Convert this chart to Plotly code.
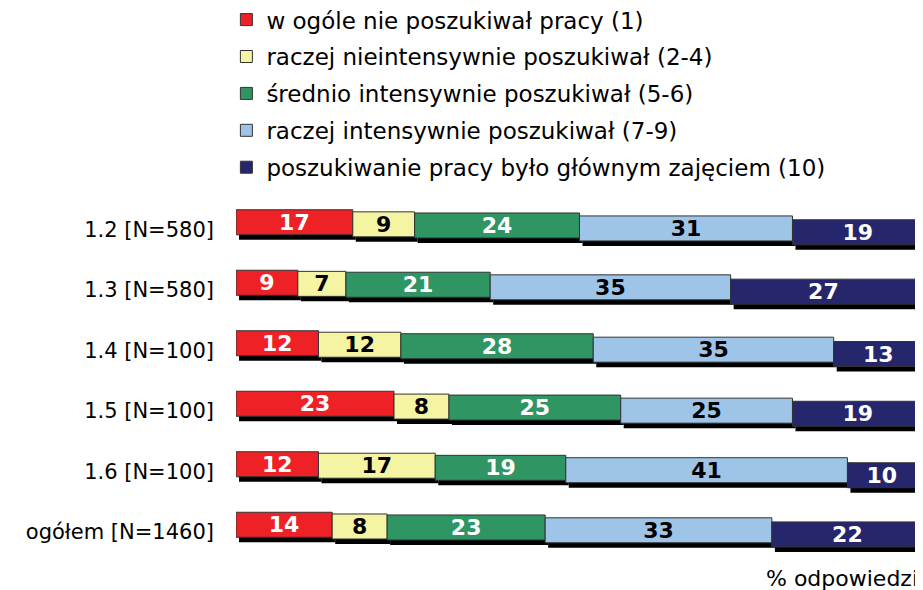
import plotly.graph_objects as go

rows = ["1.2 [N=580]", "1.3 [N=580]", "1.4 [N=100]", "1.5 [N=100]", "1.6 [N=100]", "ogółem [N=1460]"]
series_names = [
    "w ogóle nie poszukiwał pracy (1)",
    "raczej nieintensywnie poszukiwał (2-4)",
    "średnio intensywnie poszukiwał (5-6)",
    "raczej intensywnie poszukiwał (7-9)",
    "poszukiwanie pracy było głównym zajęciem (10)",
]
s1 = [17, 9, 12, 23, 12, 14]
s2 = [9, 7, 12, 8, 17, 8]
s3 = [24, 21, 28, 25, 19, 23]
s4 = [31, 35, 35, 25, 41, 33]
s5 = [19, 27, 13, 19, 10, 22]
series = [s1, s2, s3, s4, s5]
colors = ["#EE2226", "#F4F4A2", "#2E9563", "#9EC4E8", "#26266C"]
text_colors = ["white", "black", "white", "black", "white"]

FONT = "DejaVu Sans"
plot_w = 687.0
plot_h = 363.0
px_unit = plot_w / 100.0
row_px = plot_h / 6.0
slant = 0.018  # 3D perspective drop (px per px)
bar_w = 25.0 / row_px
sh_dy = 5.0 / row_px
sh_dx = 3.0 / px_unit
label_drop = 7.0 / row_px

ypos = list(range(len(rows)))

bases = []
cum = [0] * len(rows)
for s in series:
    bases.append(list(cum))
    cum = [c + v for c, v in zip(cum, s)]

fig = go.Figure()

for k, s in enumerate(series):
    ys = [i + slant * bases[k][i] * px_unit / row_px + sh_dy for i in ypos]
    fig.add_trace(go.Bar(
        y=ys, x=s, base=[b + sh_dx for b in bases[k]], orientation="h",
        width=bar_w, marker=dict(color="black", line=dict(width=0)),
        showlegend=False, hoverinfo="skip", legendgroup="shadow",
    ))

for k, s in enumerate(series):
    ys = [i + slant * bases[k][i] * px_unit / row_px for i in ypos]
    fig.add_trace(go.Bar(
        y=ys, x=s, base=bases[k], orientation="h", name=series_names[k],
        width=bar_w, legendgroup="g" + str(k),
        marker=dict(color=colors[k], line=dict(color="#333333", width=1)),
        text=[str(v) for v in s], textposition="inside", insidetextanchor="middle",
        textangle=0, constraintext="none",
        textfont=dict(family=FONT, size=22, color=text_colors[k], weight="bold"),
    ))

fig.update_layout(
    width=915, height=582,
    margin=dict(l=228, r=0, t=184, b=35, autoexpand=False),
    barmode="overlay",
    plot_bgcolor="white", paper_bgcolor="white",
    font=dict(family=FONT, size=21, color="black"),
    uniformtext=dict(minsize=22, mode="show"),
    showlegend=True,
    legend=dict(
        x=-0.014, y=1.534, xanchor="left", yanchor="top",
        font=dict(family=FONT, size=23, color="black"),
        tracegroupgap=4, traceorder="grouped",
        bgcolor="rgba(0,0,0,0)",
    ),
    xaxis=dict(range=[0, 100], visible=False, fixedrange=True, automargin=False),
    yaxis=dict(
        range=[5.5, -0.5], tickvals=[i + label_drop for i in ypos], ticktext=rows,
        automargin=False, showgrid=False, zeroline=False, showline=False, ticks="",
        ticklabelstandoff=21, tickfont=dict(family=FONT, size=21, color="black"),
    ),
    annotations=[dict(
        text="% odpowiedzi", xref="paper", yref="paper", x=1.0, y=-0.0634,
        xanchor="right", yanchor="middle", xshift=-3, showarrow=False,
        font=dict(family=FONT, size=22, color="black"),
    )],
)

fig.write_html("out.html")
